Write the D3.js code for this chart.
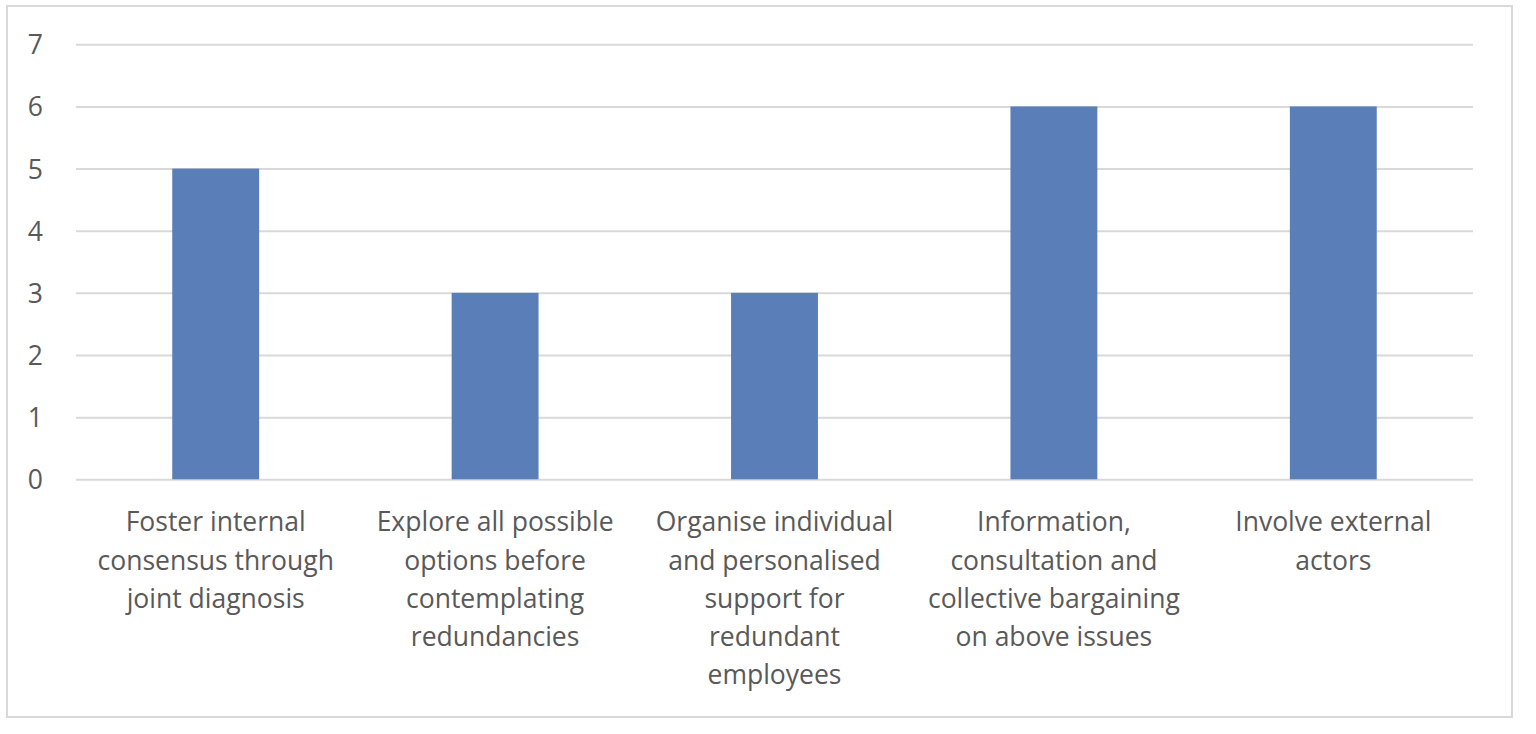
<!DOCTYPE html>
<html>
<head>
<meta charset="utf-8">
<script src="https://cdn.jsdelivr.net/npm/d3@7"></script>
<style>
  html, body { margin: 0; padding: 0; background: #fff; }
  svg text { font-family: "Open Sans", "Noto Sans", sans-serif; fill: #595959; }
</style>
</head>
<body>
<svg id="chart" width="1536" height="734"></svg>
<script>
// Data
var categories = [
    "Foster internal\nconsensus through\njoint diagnosis",
    "Explore all possible\noptions before\ncontemplating\nredundancies",
    "Organise individual\nand personalised\nsupport for\nredundant\nemployees",
    "Information,\nconsultation and\ncollective bargaining\non above issues",
    "Involve external\nactors"
];
var values = [5, 3, 3, 6, 6];
var yTicks = [0, 1, 2, 3, 4, 5, 6, 7];

// Layout
var plotLeft = 76, plotRight = 1473, plotTop = 44.3, plotBottom = 479.3;
var barRatio = 0.311;
var lineHeight = 38.3;
var fontSize = 26.5;

var svg = d3.select("#chart");

// outer frame
svg.append('rect')
    .attr('x', 7)
    .attr('y', 6)
    .attr('width', 1505)
    .attr('height', 711)
    .attr('fill', 'white')
    .attr('stroke', '#d9d9d9')
    .attr('stroke-width', 2);

var x = d3.scaleBand()
    .domain(categories)
    .range([plotLeft, plotRight])
    .padding(0);

var y = d3.scaleLinear()
    .domain([0, 7])
    .range([plotBottom, plotTop]);

// gridlines + y labels
var yAxis = d3.axisLeft(y)
    .tickValues(yTicks)
    .tickSize(-(plotRight - plotLeft))
    .tickPadding(33)
    .tickFormat(d3.format('d'));

var gy = svg.append('g')
    .attr('transform', 'translate(' + plotLeft + ',0)')
    .call(yAxis);
gy.select('.domain').remove();
gy.selectAll('.tick line')
    .attr('stroke', '#d9d9d9')
    .attr('stroke-width', 2);
gy.selectAll('.tick text')
    .attr('font-size', fontSize)
    .attr('dy', '0.36em');

// bars
svg.append('g')
    .selectAll('rect')
    .data(values)
    .join('rect')
    .attr('x', function(d, i){
        return x(categories[i]) + x.bandwidth() * (1 - barRatio) / 2;
    })
    .attr('width', x.bandwidth() * barRatio)
    .attr('y', function(d){ return y(d); })
    .attr('height', function(d){ return y(0) - y(d); })
    .attr('fill', '#5a7eb7');

// category labels
var xAxis = d3.axisBottom(x).tickSize(0).tickPadding(0);
var gx = svg.append('g')
    .attr('transform', 'translate(0,' + plotBottom + ')')
    .call(xAxis);
gx.select('.domain').remove();
gx.selectAll('.tick text').each(function(d){
    var t = d3.select(this);
    var lines = d.split('\n');
    t.text(null)
        .attr('y', 0)
        .attr('dy', null)
        .attr('font-size', fontSize);
    lines.forEach(function(line, k){
        t.append('tspan')
            .attr('x', 0)
            .attr('y', 42.4 + k * lineHeight)
            .attr('dy', '0.36em')
            .text(line);
    });
});
</script>
</body>
</html>
